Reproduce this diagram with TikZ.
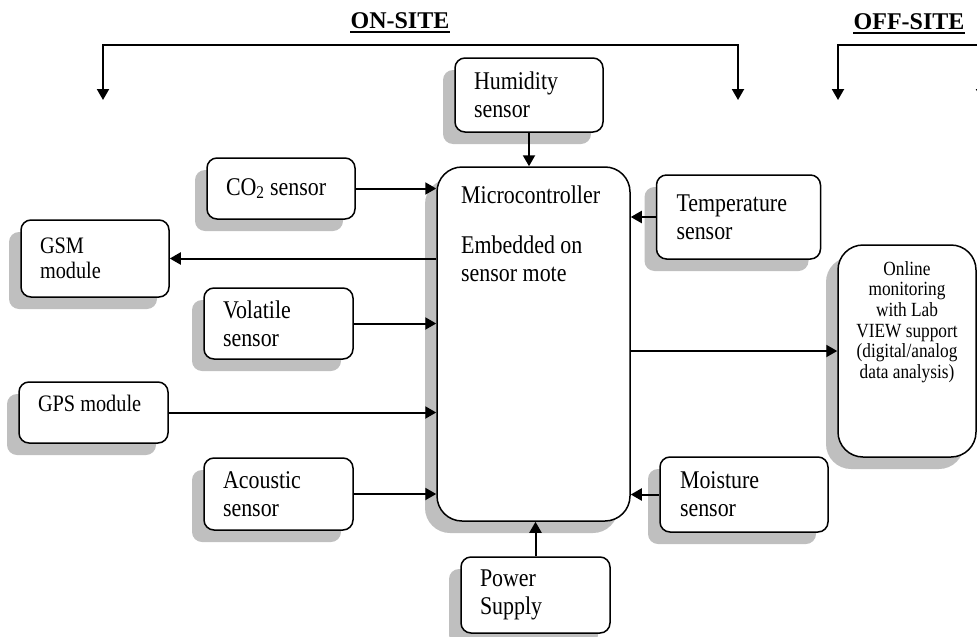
\documentclass[tikz,border=0pt]{standalone}
\usepackage{fontspec}
\setmainfont[FakeStretch=0.86]{Liberation Serif}
\newfontfamily\ttlfont{Liberation Serif}
\usetikzlibrary{arrows.meta,positioning,shadows}

\begin{document}
\begin{tikzpicture}[x=1pt, y=-1pt,
    bx/.style={draw, line width=1.5pt, rounded corners=10pt, fill=white,
      drop shadow={shadow xshift=-12pt, shadow yshift=-12pt, fill=black!25, opacity=1},
      align=flush left, inner xsep=19pt, inner ysep=0pt,
      font=\fontsize{25.5}{28}\selectfont},
    sm/.style={font=\fontsize{23.6}{25}\selectfont},
    ed/.style={-{Triangle[length=11pt,width=12pt]}, line width=2pt},
    ed2/.style={{Triangle[length=11pt,width=12pt]}-{Triangle[length=11pt,width=12pt]}, line width=2pt, line join=miter},
    ttl/.style={font=\ttlfont\fontsize{24}{28}\selectfont\bfseries, inner xsep=0pt, inner ysep=3pt,
      append after command={(\tikzlastnode.south west) edge[line width=2.4pt] (\tikzlastnode.south east)}},
  ]
  \path[use as bounding box] (0,0) rectangle (977,637);
  \clip (0,0) rectangle (977,637);

  % headings
  \node[ttl] (onsite) at (400,21) {ON-SITE};
  \node[ttl] (offsite) at (909,22) {OFF-SITE};
  \coordinate (onL) at (103,100);
  \coordinate (onT) at (400,45);
  \coordinate (onR) at (738,100);
  \coordinate (offL) at (838,100);
  \coordinate (offT) at (909,45);
  \coordinate (offR) at (982,100);
  \draw[ed2] (onL) |- (onT) -| (onR);
  \draw[ed2] (offL) |- (offT) -| (offR);

  % blocks
  \node[bx, text width=110pt, minimum height=74pt] (hum) at (529,95) {Humidity\\sensor};
  \node[bx, text width=110pt, minimum height=61pt] (co2) at (281,188.5) {CO\textsubscript{2} sensor};
  \node[bx, sm, text width=110pt, minimum height=77pt] (gsm) at (95,258.5) {GSM\\module};
  \node[bx, text width=111pt, minimum height=71pt] (vol) at (278.5,323.5) {Volatile\\sensor};
  \node[bx, sm, text width=111pt, minimum height=61pt] (gps) at (93.5,412.5) {GPS module\\[-14pt]\strut};
  \node[bx, text width=111pt, minimum height=72pt] (aco) at (278.5,494) {Acoustic\\sensor};
  \node[bx, rounded corners=25pt, minimum width=193pt, minimum height=354pt, inner sep=0pt] (micro) at (533.5,344) {};
  \node[font=\fontsize{25.5}{28}\selectfont, align=flush left, inner sep=0pt, anchor=north west] (microtxt) at (461,186)
    {Microcontroller\\[22pt]Embedded on\\sensor mote};
  \node[bx, text width=124pt, inner xsep=20pt, minimum height=84pt] (temp) at (738.5,217) {Temperature\\sensor};
  \node[bx, rounded corners=25pt, minimum width=138pt, minimum height=212pt, inner sep=0pt] (online) at (907,351) {};
  \node[font=\fontsize{20.1}{20.6}\selectfont, align=center, inner sep=0pt] (onlinetxt) at (907,322)
    {Online\\monitoring\\with Lab\\VIEW support\\(digital/analog\\data analysis)};
  \node[bx, text width=128pt, inner xsep=20pt, minimum height=75pt] (moist) at (744,494.5) {Moisture\\sensor};
  \node[bx, text width=111pt, minimum height=76pt] (pow) at (535.5,595) {Power\\Supply};

  % links
  \draw[ed] (hum.south) -- (hum.south |- micro.north);
  \draw[ed] (co2.east) -- (co2.east -| micro.west);
  \draw[ed] (micro.west |- gsm.east) -- (gsm.east);
  \draw[ed] (vol.east) -- (vol.east -| micro.west);
  \draw[ed] (gps.east) -- (gps.east -| micro.west);
  \draw[ed] (aco.east) -- (aco.east -| micro.west);
  \draw[ed] (temp.west) -- (temp.west -| micro.east);
  \draw[ed] (micro.east |- online.west) -- (online.west);
  \draw[ed] (moist.west) -- (moist.west -| micro.east);
  \draw[ed] (pow.north) -- (pow.north |- micro.south);
\end{tikzpicture}
\end{document}
